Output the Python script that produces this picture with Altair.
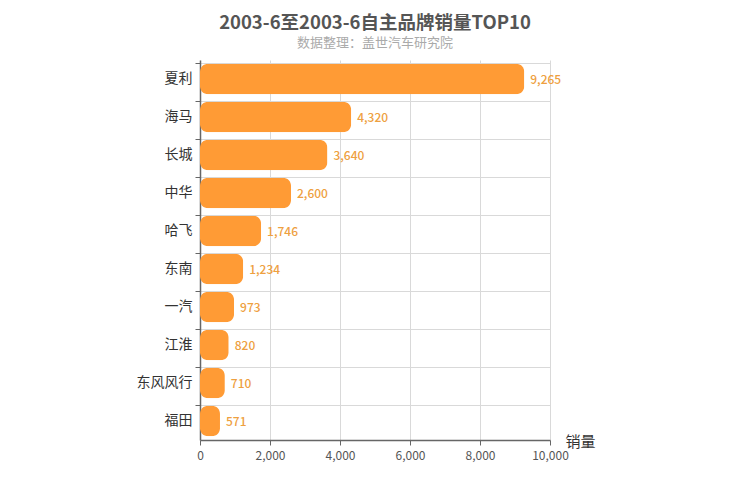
import altair as alt
import pandas as pd

brands = ["夏利", "海马", "长城", "中华", "哈飞", "东南", "一汽", "江淮", "东风风行", "福田"]
sales = [9265, 4320, 3640, 2600, 1746, 1234, 973, 820, 710, 571]

df = pd.DataFrame({"brand": brands, "sales": sales})
df["label"] = df["sales"].map(lambda v: f"{v:,}")

FONT = "Noto Sans CJK SC"

y_enc = alt.Y(
    "brand:N",
    sort=brands,
    scale=alt.Scale(paddingInner=0.2, paddingOuter=0.1),
    axis=alt.Axis(
        title=None,
        bandPosition=0,
        tickSize=5,
        tickColor="#666",
        domainColor="#666",
        domainWidth=1.5,
        labelPadding=3,
        labelFontSize=14,
        labelColor="#333",
        labelFont=FONT,
        grid=True,
        gridColor="#d9d9d9",
    ),
)

x_scale = alt.Scale(domain=[0, 10000], nice=False)

bars = alt.Chart(df).mark_bar(
    color="#ff9b35", cornerRadius=8
).encode(
    x=alt.X(
        "sales:Q",
        scale=x_scale,
        axis=alt.Axis(
            title="销量",
            values=[0, 2000, 4000, 6000, 8000, 10000],
            format=",d",
            tickSize=5,
            tickColor="#666",
            domainColor="#666",
            domainWidth=1.5,
            labelPadding=5,
            labelFlush=False,
            labelFontSize=12,
            labelColor="#555",
            labelFont=FONT,
            gridColor="#d9d9d9",
            titleFont=FONT,
            titleFontSize=15,
            titleFontWeight="normal",
            titleColor="#333",
            titleX=365,
            titleY=1,
            titleAlign="left",
            titleBaseline="middle",
        ),
    ),
    y=y_enc,
)

labels = alt.Chart(df).mark_text(
    align="left", baseline="middle", dx=6, dy=1, fontSize=12, fontWeight=500,
    color="#eea040", font=FONT
).encode(
    x=alt.X("sales:Q", scale=x_scale),
    y=alt.Y("brand:N", sort=brands),
    text="label:N",
)

chart = (
    alt.layer(bars, labels)
    .properties(
        width=350,
        height=380,
        autosize=alt.AutoSizeParams(type="none"),
        padding={"left": 192, "top": 52, "right": 192, "bottom": 52},
        title=alt.TitleParams(
            text="2003-6至2003-6自主品牌销量TOP10",
            subtitle="数据整理：盖世汽车研究院",
            anchor="middle",
            font=FONT,
            fontSize=18.5,
            fontWeight="bold",
            color="#555",
            subtitleFont=FONT,
            subtitleFontSize=13,
            subtitleColor="#aaa",
            subtitlePadding=5,
            offset=10,
        ),
    )
    .configure_view(stroke=None)
)

chart.save("out.html", embed_options={"renderer": "svg", "actions": False})
